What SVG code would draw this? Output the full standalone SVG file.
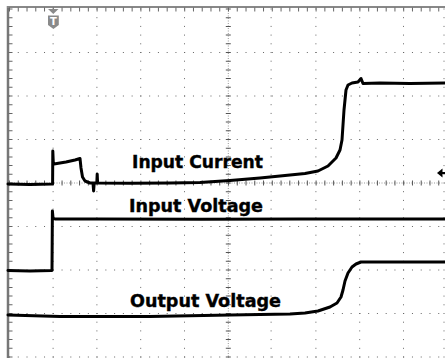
<svg xmlns="http://www.w3.org/2000/svg" width="445" height="358" viewBox="0 0 445 358">
<style>
.dv{stroke:#666;stroke-width:1;stroke-dasharray:1 7.7;fill:none}
.dh{stroke:#666;stroke-width:1;stroke-dasharray:1 7.76;fill:none}
.tr{stroke:#000;stroke-width:3;fill:none;stroke-linejoin:round;stroke-linecap:round}
.lbl{font-family:"DejaVu Sans","Liberation Sans",sans-serif;font-weight:bold;font-size:18px;fill:#000;stroke:#000;stroke-width:0.4}
</style>
<rect width="445" height="358" fill="#fff"/>
<g id="grid">
<line class="dv" x1="53.1" y1="8.5" x2="53.1" y2="358"/>
<line class="dv" x1="96.9" y1="8.5" x2="96.9" y2="358"/>
<line class="dv" x1="140.7" y1="8.5" x2="140.7" y2="358"/>
<line class="dv" x1="184.5" y1="8.5" x2="184.5" y2="358"/>
<line class="dv" x1="271.1" y1="8.5" x2="271.1" y2="358"/>
<line class="dv" x1="315.9" y1="8.5" x2="315.9" y2="358"/>
<line class="dv" x1="359.7" y1="8.5" x2="359.7" y2="358"/>
<line class="dv" x1="403.5" y1="8.5" x2="403.5" y2="358"/>
<line class="dv" x1="444" y1="8.5" x2="444" y2="358"/>
<line class="dh" x1="9" y1="52.5" x2="445" y2="52.5"/>
<line class="dh" x1="9" y1="96" x2="445" y2="96"/>
<line class="dh" x1="9" y1="139.5" x2="445" y2="139.5"/>
<line class="dh" x1="9" y1="226.5" x2="445" y2="226.5"/>
<line class="dh" x1="9" y1="270" x2="445" y2="270"/>
<line class="dh" x1="9" y1="313.5" x2="445" y2="313.5"/>
<line class="dh" x1="9" y1="357" x2="445" y2="357"/>
<line x1="228.3" y1="8" x2="228.3" y2="358" stroke="#999" stroke-width="1" stroke-dasharray="1 1.5"/>
<line x1="9" y1="183" x2="445" y2="183" stroke="#999" stroke-width="1" stroke-dasharray="1 1.5"/>
<line x1="228.3" y1="8.5" x2="228.3" y2="358" stroke="#555" stroke-width="5" stroke-dasharray="1 7.7"/>
<line x1="9" y1="183" x2="445" y2="183" stroke="#555" stroke-width="5" stroke-dasharray="1 7.76"/>
<line x1="8" y1="6" x2="8" y2="358" stroke="#777" stroke-width="2.5"/>
<line x1="7" y1="7" x2="445" y2="7" stroke="#888" stroke-width="2"/>
<line x1="10.5" y1="8.5" x2="10.5" y2="358" stroke="#666" stroke-width="4" stroke-dasharray="1 7.7"/>
<line x1="9" y1="9.5" x2="445" y2="9.5" stroke="#666" stroke-width="4" stroke-dasharray="1 7.76"/>
</g>
<g id="trigger-marker">
<path d="M48,9 H58.5 L53.3,14 Z" fill="#8a8a8a"/>
<path d="M48,15.5 H58.8 V25 L53.4,29 L48,25 Z" fill="#8a8a8a"/>
<text x="53.4" y="25" text-anchor="middle" font-family="DejaVu Sans,sans-serif" font-weight="bold" font-size="10" fill="#fff">T</text>
</g>
<g id="level-marker">
<path d="M437,173 L442.5,168.5 L442.5,177.5 Z" fill="#000"/>
<line x1="441" y1="173" x2="445" y2="173" stroke="#000" stroke-width="2"/>
</g>
<g id="connectors">
<path id="input-current" class="tr" d="M8,184 L30,184.5 L52,184 L52.6,184 L52.8,151 L53.3,163 L54,164 L66,162 L75,160 L80,158.5 L81,168 L82.5,177 L85,181 L90,183 L93,183 L93.6,191 L94.2,183 L96.8,183 L97.2,174 L97.6,183 L130,183.3 L170,183 L200,182.5 L230,180.5 L260,178 L290,175 L305,173.5 L318,171 L328,166 L336,158 L340,150 L342,140 L344,110 L346,90 L348,85 L352,83 L358,82 L361,78.5 L363,83.5 L380,83 L410,83.5 L445,83"/>
<path id="input-voltage" class="tr" d="M8,270.5 L30,271 L51.5,270.5 L52,270.5 L52.4,211 L53,218 L55,219 L100,219 L200,219.3 L300,219 L445,219"/>
<path id="output-voltage" class="tr" d="M8,315 L60,316.5 L150,316.5 L230,315 L290,314 L305,313 L318,311 L330,307 L337,303 L341,297 L343,290 L345,281 L348,273 L352,267 L356,264 L361,262 L380,262 L445,262"/>
</g>
<g id="labels">
<text class="lbl" x="132" y="168" textLength="131" lengthAdjust="spacingAndGlyphs">Input Current</text>
<text class="lbl" x="129" y="212" textLength="134" lengthAdjust="spacingAndGlyphs">Input Voltage</text>
<text class="lbl" x="130" y="307" textLength="151" lengthAdjust="spacingAndGlyphs">Output Voltage</text>
</g>
</svg>
